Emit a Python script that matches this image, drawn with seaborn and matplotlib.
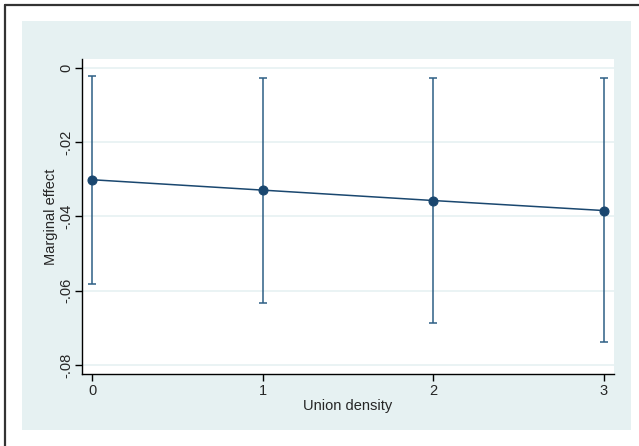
import numpy as np
import pandas as pd
import matplotlib
matplotlib.use("Agg")
import matplotlib.pyplot as plt
import seaborn as sns
from matplotlib.patches import Rectangle
from matplotlib.lines import Line2D

# marginal effect of union density, with 95% CI
union_density = [0, 1, 2, 3]
effect = [-0.0301, -0.0329, -0.0357, -0.0384]
ci_low = [-0.0583, -0.0633, -0.0686, -0.0739]
ci_high = [-0.0022, -0.0026, -0.0027, -0.0027]

df = pd.DataFrame({"x": union_density, "y": effect, "lo": ci_low, "hi": ci_high})

sns.set_style("white")
plt.rcParams["font.family"] = ["Liberation Sans", "DejaVu Sans"]

W, H = 639, 446
fig = plt.figure(figsize=(W / 100, H / 100), dpi=100)
fig.patch.set_facecolor("white")

def px(x0, y0, x1, y1):
    return (x0 / W, 1 - y1 / H, (x1 - x0) / W, (y1 - y0) / H)

# stata-ish outer region
l, b, w, h = px(22, 21, 631, 430)
fig.add_artist(Rectangle((l, b), w, h, transform=fig.transFigure,
                         facecolor="#e6f1f2", edgecolor="none", zorder=0))
# frame edges (cropped screenshot: only top and left visible)
fig.add_artist(Line2D([5 / W, 1], [1 - 5 / H, 1 - 5 / H], transform=fig.transFigure,
                      color="#333333", lw=1.6))
fig.add_artist(Line2D([5 / W, 5 / W], [0, 1 - 5 / H], transform=fig.transFigure,
                      color="#333333", lw=1.6))

ax = fig.add_axes(px(82, 59, 614, 374))
ax.set_facecolor("white")

navy = "#1a476f"
ax.errorbar(df["x"], df["y"], yerr=[df["y"] - df["lo"], df["hi"] - df["y"]],
            fmt="none", ecolor="#2e5f85", elinewidth=1.1, capsize=3.2, capthick=1.1, zorder=2)
sns.lineplot(data=df, x="x", y="y", color=navy, lw=1.1, marker="o", markersize=6.5,
             markeredgecolor=navy, markerfacecolor=navy, ax=ax, zorder=3)

ax.set_xlim(-0.059, 3.059)
ax.set_ylim(-0.0824, 0.0024)
ax.set_xticks(union_density)
ax.set_xticklabels([str(v) for v in union_density])
yt = [0, -0.02, -0.04, -0.06, -0.08]
ax.set_yticks(yt)
ax.set_yticklabels(["0", "-.02", "-.04", "-.06", "-.08"], rotation=90, va="center")
ax.grid(axis="y", color="#e6f1f2", lw=1.2)
ax.grid(axis="x", visible=False)

for s in ["top", "right"]:
    ax.spines[s].set_visible(False)
for s in ["left", "bottom"]:
    ax.spines[s].set_color("black")
    ax.spines[s].set_linewidth(1.0)
ax.tick_params(axis="both", direction="out", length=5, width=1, color="black",
               labelsize=10.5, pad=2, left=True, bottom=True)
ax.tick_params(axis="y", pad=1)

ax.set_xlabel("Union density", fontsize=10.5, labelpad=1)
ax.set_ylabel("Marginal effect", fontsize=10.5, labelpad=1)

fig.savefig("out.png", dpi=100)
